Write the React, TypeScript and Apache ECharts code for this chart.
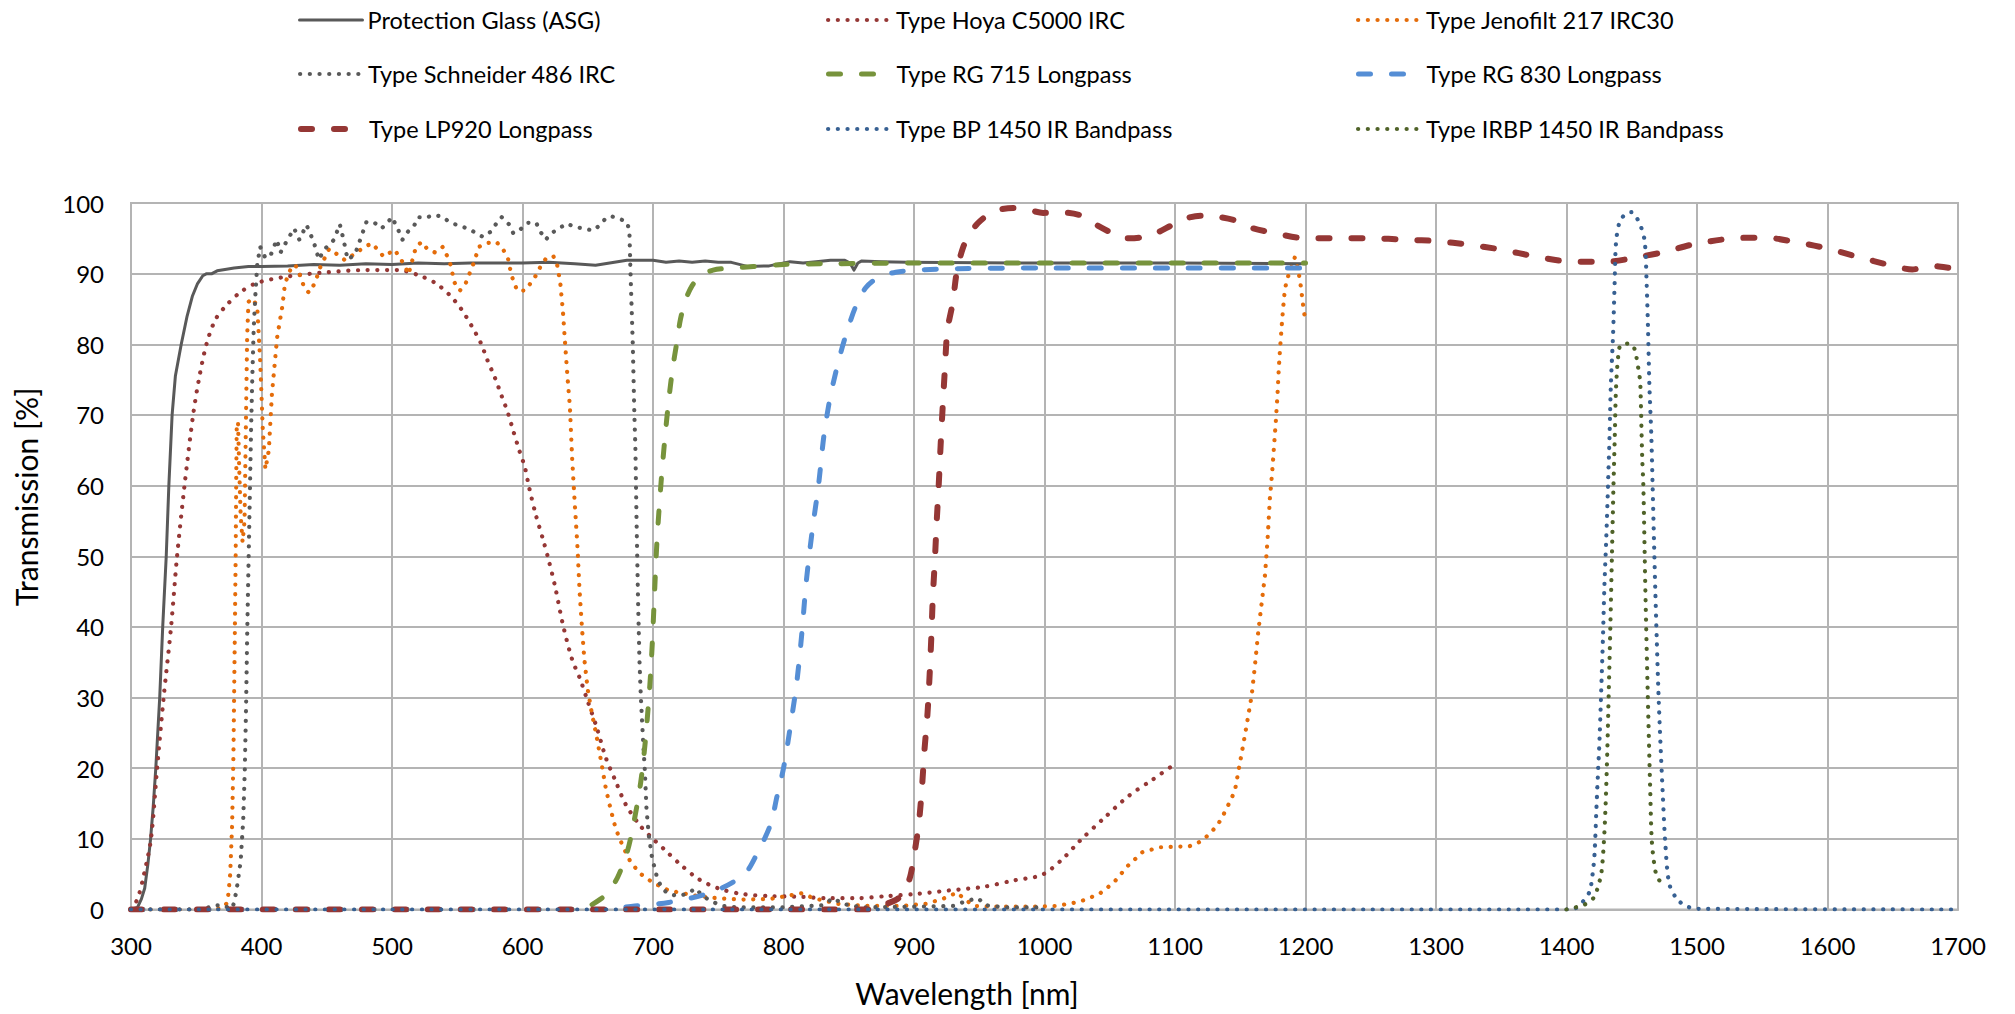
import React, { useEffect, useRef } from "react";
import * as echarts from "echarts";

// ---- Data (wavelength nm, transmission %) ----
const asgData: [number, number][] = [
  [300, 0], [305, 0.3], [308, 1.5], [310.5, 3], [313, 6.5], [315, 10], [317, 14.5], [319, 20], [322, 30], [324.3, 40],
  [327, 50], [329, 60], [331.5, 70], [334, 75.5], [338.5, 80], [343, 84], [347, 86.8], [351, 88.6], [355, 89.7], [358, 90],
  [362, 90], [366, 90.4], [372, 90.6], [379, 90.8], [390, 91], [400, 91], [420, 91.1], [440, 91.3], [460, 91.2], [480, 91.4],
  [500, 91.3], [520, 91.5], [540, 91.4], [560, 91.5], [580, 91.5], [600, 91.5], [620, 91.6], [640, 91.4], [656, 91.2], [680, 91.9],
  [700, 91.9], [710, 91.6], [720, 91.8], [730, 91.6], [740, 91.8], [750, 91.6], [760, 91.6], [773, 91.0], [789, 91.1], [805, 91.7],
  [815, 91.5], [825, 91.7], [836, 91.9], [847, 91.9], [851, 91.5], [854, 90.5], [857, 91.5], [860, 91.8], [875, 91.7], [895, 91.6],
  [1000, 91.5], [1100, 91.5], [1200, 91.4],
];

const hoyaData: [number, number][] = [
  [300, 0], [305, 1.5], [310, 5], [315.3, 10], [320, 20], [325, 30], [330.7, 40], [335.3, 50], [341, 60], [347.6, 70],
  [352, 75], [357.8, 80], [364.7, 83.5], [373, 85.5], [384, 87.4], [396.7, 88.7], [420, 89.6], [450, 90.2], [480, 90.5], [505, 90.5],
  [520, 89.8], [533, 88.7], [544, 87], [553, 85], [561, 82.6], [568, 80.2], [573, 77.8], [579, 75.2], [584, 72.7], [589, 70.2],
  [593, 67.7], [597.5, 65], [601.8, 62.6], [605, 59.8], [610, 56], [616, 52.2], [620, 49.5], [625, 45.7], [631, 40.3], [638, 35.4],
  [644, 32.7], [649, 30], [657, 25.7], [664, 21.4], [671.5, 18.1], [679, 14.9], [690, 11.9], [700, 10], [711, 8.1], [722, 6.2],
  [735, 4.3], [750, 3], [768, 2.2], [790, 1.9], [813, 1.8], [834, 1.6], [857, 1.6], [879, 1.9], [901.5, 2.2], [927, 2.7],
  [953, 3.2], [976, 4.1], [998, 4.9], [1013, 7], [1027, 9.7], [1046, 13], [1064, 16], [1083, 18.4], [1100, 20.6],
];

const jenofiltData: [number, number][] = [
  [300, 0], [350, 0], [370, 0.2], [374, 1], [376, 5], [377.5, 12], [378.5, 22], [379.5, 38], [380.2, 50], [380.6, 60],
  [381, 68], [382, 69], [383, 62], [384, 56], [385.5, 52], [387, 55], [388, 68], [389, 81], [390, 86], [393, 86.5],
  [396.7, 85.4], [399, 77.6], [401, 67.9], [403, 62.3], [405.6, 65], [408, 73], [412, 81], [416, 85.4], [418, 88.6], [423.5, 91.2],
  [427, 91], [430, 89.5], [433, 87.9], [436.5, 87.3], [441, 88.7], [445, 90.9], [451.8, 93.5], [456, 93], [464, 91.9], [473, 93],
  [479, 93.8], [484.8, 94.3], [493.6, 92.4], [502, 93.4], [509.6, 91.2], [512.6, 89.9], [518.4, 93.8], [522.8, 94.5], [527, 93.5], [533, 93],
  [539, 93.8], [542, 92.6], [545, 91.2], [547.7, 88.8], [552, 87.6], [556.4, 88.6], [559.4, 90], [562, 91.2], [566.7, 93.8], [572, 94.3],
  [580, 94.5], [584.8, 93.5], [588.6, 92.4], [591.5, 89.8], [595.9, 87.6], [601.8, 87.6], [606, 88.6], [610.5, 89.8], [613.5, 90.9], [617.8, 92.1],
  [623.6, 92.5], [626.6, 91.2], [629, 88.6], [631, 84.6], [632.5, 80.5], [634.5, 75.3], [636.3, 71.2], [638, 64], [640, 57.6], [642, 51.7],
  [643.7, 45.2], [645.6, 39.8], [647.4, 35.4], [650, 31.1], [653, 27.9], [656.7, 24.6], [660.4, 20.8], [664, 17], [667.8, 14], [671.5, 11.4],
  [677, 8.9], [682.6, 6.8], [690, 5.1], [700, 3.8], [712, 2.7], [731, 2], [749, 1.6], [768, 1.4], [790, 1.5], [805, 2],
  [814, 2.3], [823, 1.6], [842, 0.8], [864, 0.5], [890, 0.5], [909, 0.8], [922, 1.5], [933, 2.4], [938.5, 1.5], [946, 0.5],
  [964, 0.4], [990, 0.4], [1009, 0.5], [1027, 1.1], [1042, 2.2], [1053, 3.8], [1064, 6.2], [1075, 8.1], [1088, 8.8], [1101, 8.9],
  [1110, 8.9], [1116.6, 9.3], [1122.4, 10], [1128, 11], [1132.7, 12], [1136, 13], [1139.5, 14.3], [1143, 15.6], [1146, 16.9], [1148.5, 19.5],
  [1151, 22], [1153.6, 24.7], [1156, 27.3], [1158.7, 30.2], [1161, 34.1], [1163.8, 39.3], [1166.3, 43.2], [1169, 47.4], [1171, 52.6], [1172.7, 58.2],
  [1174.5, 62], [1176, 65.9], [1177.3, 69.2], [1178.6, 73.1], [1179.6, 76.8], [1180.6, 79.6], [1181.6, 82.2], [1182.7, 84.8], [1184, 87.4], [1185.5, 89],
  [1188, 90.3], [1191.8, 92.3], [1194.4, 90.6], [1196.4, 88.2], [1198.2, 85.5], [1199.2, 84.2],
];

const schneiderData: [number, number][] = [
  [300, 0], [355, 0], [364, 0.6], [371, 0.6], [376, 0.1], [378, 0.3], [380.8, 2.6], [384, 6.8], [386, 12.7], [387.2, 19.8],
  [388.2, 28.9], [389, 38.6], [390, 48.4], [391, 58], [392, 67.9], [393, 75.6], [394, 82.1], [395.4, 87.3], [396.7, 91.2], [399, 93.8],
  [403, 92.2], [407, 92.6], [411.7, 94.8], [414.6, 93], [419, 94.5], [425, 96.4], [429, 94.8], [434.5, 96.9], [440, 94.5], [444, 92],
  [448, 93.4], [455.6, 94.8], [460, 97], [463, 94.7], [466, 92], [471.6, 92.7], [476, 95], [480.4, 97.3], [486, 97.3], [492, 96.4],
  [496, 97.1], [500, 98], [505, 96.1], [508, 94.8], [512, 95.9], [517, 96.8], [520, 98], [526, 97.9], [531.6, 98.3], [538.3, 98.1],
  [544, 97.3], [551, 96.8], [558, 96.4], [565, 95.7], [569.6, 95.2], [575.4, 95.9], [580, 97.1], [584, 98], [589.5, 97], [593, 95.7],
  [598, 96.2], [604, 97.2], [610.5, 97.2], [613.5, 96], [617.8, 94.8], [622, 95.7], [628, 96.4], [634, 97.1], [640, 96.6], [647, 96.4],
  [654, 96.1], [659.6, 96.9], [664, 97.9], [668.4, 98.1], [674, 97.8], [680, 97.3], [681.9, 96.1], [682.7, 90.5], [683.6, 85.3], [684.5, 80.1],
  [685.7, 70.2], [686.5, 65.4], [687.4, 55], [688.5, 44.1], [689.6, 35.4], [690.7, 30], [692.2, 24.6], [693.7, 19.8], [695, 14.3], [696.7, 10.6],
  [699.3, 7.3], [703, 4.6], [706.7, 3], [712, 2.2], [719.6, 1.9], [727, 2.3], [732.6, 3], [738, 1.9], [745.6, 1.1], [753, 0.5],
  [764, 0.3], [800, 0.3], [830, 0.6], [838, 1.6], [845.6, 0.8], [860, 0.3], [900, 0.4], [930, 0.5], [940, 1.2], [949, 1.6],
  [955, 0.6], [970, 0.3], [1000, 0.3],
];

const rg715Data: [number, number][] = [
  [300, 0], [640, 0], [650, 0.4], [660, 1.5], [666, 2.5], [673, 4.6], [680, 8], [685, 12], [690.5, 17.9], [694, 23.6],
  [697.6, 31.8], [699.4, 37.5], [701, 44], [703, 52], [706, 60], [709, 66.5], [712, 72], [715, 76.5], [718, 80], [721, 83.5],
  [725, 86.3], [730, 88.3], [736, 89.6], [746, 90.5], [761.6, 90.8], [777, 91], [800, 91.3], [835, 91.4], [900, 91.5], [1000, 91.5],
  [1100, 91.5], [1200, 91.5],
];

const rg830Data: [number, number][] = [
  [300, 0], [660, 0], [686, 0.5], [712, 1], [746, 2.5], [770, 5], [780, 8], [790, 12], [795, 16], [800, 20],
  [806, 26.8], [810.4, 32.5], [814, 39], [817.4, 46.3], [822, 53.6], [827, 60.3], [831, 67.1], [836.3, 73], [844, 78.9], [849, 82],
  [855, 85.2], [863, 88], [873, 89.5], [886, 90.2], [902, 90.5], [933, 90.7], [1000, 90.8], [1100, 90.8], [1200, 90.8],
];

const lp920Data: [number, number][] = [
  [300, 0], [870, 0], [879, 0.8], [886.7, 1.4], [892, 2.4], [897, 4.6], [900.7, 8.4], [903.7, 12.2], [906, 17], [908, 22.5],
  [910.4, 27.9], [912, 33.3], [913.3, 38.7], [914.4, 44.1], [916, 49.5], [917.4, 54.9], [919, 60.3], [920.4, 65.7], [922, 71.2], [923.7, 76.6],
  [925.6, 82], [929.6, 85.8], [933, 90.5], [937.8, 93.8], [943, 95.7], [948.7, 97.1], [956.5, 98.3], [964, 99], [976, 99.3], [988, 99],
  [999, 98.6], [1011, 98.7], [1027, 98.3], [1036, 97.3], [1050, 95.9], [1062, 95], [1073, 95.1], [1085, 95.7], [1097, 96.8], [1108, 97.8],
  [1120, 98.2], [1131, 98.1], [1147, 97.5], [1160, 96.4], [1175, 95.8], [1195, 95.1], [1220, 95], [1250, 95], [1277, 94.8], [1301, 94.6],
  [1325, 94.1], [1350, 93.4], [1377, 92.4], [1404, 91.7], [1432, 91.7], [1456, 92.4], [1476, 93.1], [1496, 94.1], [1528, 95], [1552, 95.1],
  [1575, 94.5], [1599, 93.6], [1623, 92.4], [1648, 91.2], [1665, 90.6], [1680, 91.1], [1690, 90.9], [1700, 90.7],
];

const bp1450Data: [number, number][] = [
  [300, 0], [1400, 0], [1406, 0.1], [1412.5, 1.1], [1417.6, 2.5], [1420, 5], [1421.5, 7.9], [1422.8, 13.7], [1424, 18.8], [1425.4, 24.5],
  [1426.6, 31], [1427.9, 38.2], [1429, 45.5], [1430.5, 52.7], [1431.8, 59.9], [1433, 67.1], [1434, 74.3], [1435.7, 81.5], [1436.9, 88.7], [1438, 94.5],
  [1440.8, 97.4], [1444.6, 98.3], [1449.7, 98.7], [1453.5, 98], [1457.3, 96.5], [1460, 94.5], [1461.4, 88.7], [1462.5, 82], [1463.5, 74.3], [1465, 67],
  [1466, 59.9], [1467, 52.5], [1468, 45.5], [1469.2, 38], [1470.4, 31], [1472, 23.5], [1473.7, 16.6], [1475.7, 9.4], [1478.8, 3.6], [1485, 1.4],
  [1492.8, 0.4], [1500, 0.1], [1700, 0],
];

const irbp1450Data: [number, number][] = [
  [1400, 0], [1413.8, 0.7], [1421.5, 1.8], [1424, 3.2], [1426.6, 5], [1428.6, 9.4], [1430, 15], [1431.2, 22], [1432.4, 31], [1433.6, 40],
  [1434.8, 50], [1436, 60], [1437, 67], [1438, 74], [1440, 79], [1442, 80], [1448, 80.1], [1452, 79.4], [1456, 75.4], [1456.6, 74.3],
  [1458, 64], [1458.9, 59.9], [1460.4, 45.5], [1462.2, 31], [1464.2, 16.6], [1465.5, 9.4], [1468.6, 5], [1471.6, 4],
];

const xTicks = { min: 300, max: 1700, step: 100 };
const yTicks = { min: 0, max: 100, step: 10 };

const seriesNames = [
  "Protection Glass (ASG)",
  "Type Hoya C5000 IRC",
  "Type Jenofilt 217 IRC30",
  "Type Schneider 486 IRC",
  "Type RG 715 Longpass",
  "Type RG 830 Longpass",
  "Type LP920 Longpass",
  "Type BP 1450 IR Bandpass",
  "Type IRBP 1450 IR Bandpass",
];

const seriesData = [asgData, hoyaData, jenofiltData, schneiderData, rg715Data, rg830Data, lp920Data, bp1450Data, irbp1450Data];

const DOT = [0.1, 9.6];
const DASH = [12, 21];
const seriesStyles: any[] = [
  { color: "#595959", width: 3, type: "solid", cap: "round", smooth: false },
  { color: "#953735", width: 4.2, type: DOT, cap: "round", smooth: 0.3 },
  { color: "#E46C0A", width: 4.2, type: DOT, cap: "round", smooth: false },
  { color: "#595959", width: 4.2, type: DOT, cap: "round", smooth: false },
  { color: "#77933C", width: 5, type: DASH, cap: "round", smooth: 0.3 },
  { color: "#558ED5", width: 5, type: DASH, cap: "round", smooth: 0.3 },
  { color: "#953735", width: 6, type: [11, 22], cap: "round", smooth: 0.3 },
  { color: "#376092", width: 4.2, type: DOT, cap: "round", smooth: 0.3 },
  { color: "#4F6228", width: 4.2, type: DOT, cap: "round", smooth: 0.3 },
];

const legendCols = [298, 826, 1356];
const legendRows = [8, 62, 117];

const FONT = "Lato, 'Open Sans', sans-serif";

export default function App() {
  const ref = useRef<HTMLDivElement>(null);
  useEffect(() => {
    if (!ref.current) return;
    const chart = echarts.init(ref.current, undefined, { renderer: "svg" });

    const legends = seriesNames.map((name, i) => {
      const st = seriesStyles[i];
      return {
        show: true,
        data: [{ name, itemStyle: { opacity: 0 } }],
        left: legendCols[i % 3],
        top: legendRows[Math.floor(i / 3)],
        padding: 0,
        itemWidth: 63,
        itemHeight: 14,
        itemGap: 0,
        selectedMode: false,
        lineStyle: { color: st.color, width: st.width, type: st.type, cap: st.cap, opacity: 1 },
        textStyle: { fontSize: 23.5, fontFamily: FONT, color: "#000" },
      };
    });

    const series = seriesNames.map((name, i) => {
      const st = seriesStyles[i];
      return {
        name,
        type: "line",
        data: seriesData[i],
        symbol: "none",
        showSymbol: false,
        smooth: st.smooth,
        clip: true,
        lineStyle: { color: st.color, width: st.width, type: st.type, cap: st.cap, join: "round" },
        itemStyle: { color: st.color },
        emphasis: { disabled: true },
        z: 2 + i,
      };
    });

    chart.setOption({
      animation: false,
      backgroundColor: "#fff",
      grid: {
        left: 131,
        top: 203,
        width: 1827,
        height: 706.5,
        show: true,
        borderColor: "#B4B4B4",
        borderWidth: 2,
      },
      legend: legends,
      xAxis: {
        type: "value",
        min: xTicks.min,
        max: xTicks.max,
        interval: xTicks.step,
        axisLine: { show: true, lineStyle: { color: "#B4B4B4", width: 2 } },
        axisTick: { show: false },
        splitLine: { show: true, lineStyle: { color: "#B4B4B4", width: 2 } },
        axisLabel: { margin: 24, fontSize: 24, fontFamily: FONT, color: "#000", formatter: (v: number) => String(v) },
      },
      yAxis: {
        type: "value",
        min: yTicks.min,
        max: yTicks.max,
        interval: yTicks.step,
        axisLine: { show: false },
        axisTick: { show: false },
        splitLine: { show: true, lineStyle: { color: "#B4B4B4", width: 2 } },
        axisLabel: { margin: 27, fontSize: 24, fontFamily: FONT, color: "#000", formatter: (v: number) => String(v) },
      },
      graphic: [
        {
          type: "text",
          x: 26,
          y: 497,
          rotation: Math.PI / 2,
          style: {
            text: "Transmission [%]",
            fontSize: 30,
            fontFamily: FONT,
            fill: "#000",
            align: "center",
            verticalAlign: "middle",
          },
        },
        {
          type: "text",
          x: 967,
          y: 993,
          style: {
            text: "Wavelength [nm]",
            fontSize: 30,
            fontFamily: FONT,
            fill: "#000",
            align: "center",
            verticalAlign: "middle",
          },
        },
      ],
      series,
    });
    return () => chart.dispose();
  }, []);
  return (
    <div
      ref={ref}
      style={{ position: "fixed", left: 0, top: 0, width: 2015, height: 1014, background: "#fff" }}
    />
  );
}
